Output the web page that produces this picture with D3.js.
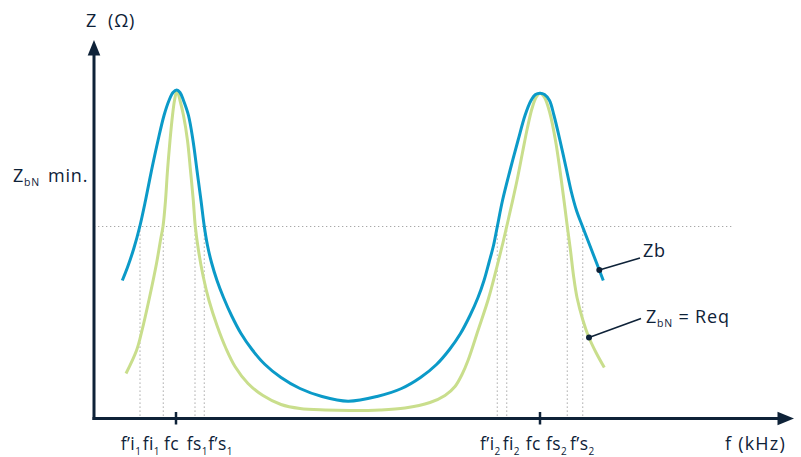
<!DOCTYPE html>
<html>
<head>
<meta charset="utf-8">
<script src="https://cdn.jsdelivr.net/npm/d3@7"></script>
<style>
  html, body { margin: 0; padding: 0; background: #ffffff; }
  svg { display: block; font-family: "Open Sans", "Noto Sans", sans-serif; }
</style>
</head>
<body>
<svg id="chart" width="801" height="457"></svg>
<script>
// ---- data (frequency f, impedance Z in arbitrary chart units) ----
const zbF = [28.3, 33.8, 39.8, 45.8, 51.5, 57.5, 64, 70, 75, 79, 82.7, 86, 89.5, 94.5, 99, 103, 107, 110.3, 113.5, 117.5, 123, 129.5, 137.5, 147, 158, 171, 187, 206, 228, 254, 283, 307.5, 326.5, 342.5, 355.5, 366.5, 376, 384, 390, 395, 399.5, 403.3, 408.5, 416, 424, 431, 437, 441.5, 446, 450.5, 455.5, 460, 466, 472, 477.5, 482.5, 488.5, 497, 509.3];
const zbZ = [138, 152, 170, 192, 218, 248, 278, 303, 318, 326, 328.5, 326, 318, 303, 278, 248, 218, 192, 173, 156, 138, 121, 103, 85, 69, 54, 41, 30, 22, 17.3, 22, 30, 41, 54, 69, 85, 103, 121, 138, 156, 173, 192, 218, 248, 278, 303, 318, 324, 325.3, 324, 318, 303, 278, 251, 226, 208, 192, 170, 138];

const reqF = [32, 42.5, 48, 55.5, 62.5, 66.8, 69, 71.5, 73.5, 76, 78.5, 80.5, 83, 86, 89.5, 93.5, 96.5, 99.3, 101.3, 104.5, 109, 115, 123, 132, 141, 154, 169, 187, 206, 231, 256, 286, 311, 336, 351, 361, 368, 374, 384, 394.5, 403, 409, 412.7, 417.5, 423, 428.5, 433.5, 438, 442, 446, 450.5, 456, 461.5, 466, 470, 473.3, 476.5, 479.5, 483, 489, 494.5, 502, 510.3];
const reqZ = [45, 68, 88, 121, 155, 180, 192, 218, 248, 278, 303, 318, 328, 318, 303, 278, 248, 218, 192, 168, 143, 118, 93, 70, 52, 35, 23, 14, 10, 8.5, 8, 8.5, 10.5, 16, 23, 32, 44, 58, 88, 120, 152, 176, 192, 213, 238, 266, 291, 310, 321, 325.3, 321, 305, 278, 248, 218, 192, 168, 143, 121, 98, 82, 66, 51];

const zMinLevel = 192;                    // Z_bN min. level
const zMinLineEnd = 638;                  // end of the dotted level line (f units)
const crossF = [46, 69.3, 101, 110.3, 403.3, 412.7, 473.3, 488.7];  // dotted verticals
const centerF = [82, 446];                // fc ticks

// tick labels: main text, subscript, left edge frequency
const tickMain = ["f\u2019i", "fi", "fc", "fs", "f\u2019s", "f\u2019i", "fi", "fc", "fs", "f\u2019s"];
const tickSub  = ["1", "1", "", "1", "1", "2", "2", "", "2", "2"];
const tickF    = [26.7, 48.7, 70, 92.7, 114.3, 386, 408.7, 431.7, 452, 476];

// series labels: [main, subscript, rest], annotation point on curve
const annoMain = ["Zb", "Z"];
const annoSub  = ["", "bN"];
const annoRest = ["", " = Req"];
const annoPtF  = [505.3, 495];
const annoPtZ  = [148.5, 81];

// ---- drawing ----
const navy = "#0e2238", blue = "#0b9ac8", green = "#c9de8c", grey = "#a8a8a8";
const svg = d3.select("#chart");
const x = d3.scaleLinear().domain([0, 700]).range([94, 794]);
const y = d3.scaleLinear().domain([0, 380]).range([418.5, 38.5]);
const fs = 18, ls = 0.8;

// dotted reference lines
svg.append("line")
  .attr("x1", x(0)).attr("x2", x(zMinLineEnd))
  .attr("y1", y(zMinLevel)).attr("y2", y(zMinLevel))
  .attr("stroke", grey).attr("stroke-width", 1.2).attr("stroke-dasharray", "1.3,2.7");
svg.selectAll("line.cross").data(crossF).enter().append("line")
  .attr("class", "cross")
  .attr("x1", d => x(d)).attr("x2", d => x(d))
  .attr("y1", y(zMinLevel)).attr("y2", y(0))
  .attr("stroke", grey).attr("stroke-width", 1.2).attr("stroke-dasharray", "1.3,2.7");

// curves
const line = d3.line().x(d => x(d[0])).y(d => y(d[1])).curve(d3.curveCatmullRom.alpha(0.5));
svg.append("path").datum(reqF.map((f, i) => [f, reqZ[i]]))
  .attr("d", line).attr("fill", "none").attr("stroke", green).attr("stroke-width", 3)
  .attr("stroke-linejoin", "round");
svg.append("path").datum(zbF.map((f, i) => [f, zbZ[i]]))
  .attr("d", line).attr("fill", "none").attr("stroke", blue).attr("stroke-width", 3)
  .attr("stroke-linejoin", "round");

// axes
svg.append("line").attr("x1", x(0)).attr("x2", x(0)).attr("y1", y(0) + 1.5).attr("y2", 52)
  .attr("stroke", navy).attr("stroke-width", 3);
svg.append("line").attr("x1", x(0) - 1.5).attr("x2", 780).attr("y1", y(0)).attr("y2", y(0))
  .attr("stroke", navy).attr("stroke-width", 3);
svg.append("path").attr("d", `M${x(0)},40 L${x(0) + 6.3},55.5 L${x(0) - 6.3},55.5 Z`).attr("fill", navy);
svg.append("path").attr("d", `M794,${y(0)} L777.5,${y(0) - 6.7} L777.5,${y(0) + 6.7} Z`).attr("fill", navy);

// fc ticks
svg.selectAll("line.tick").data(centerF).enter().append("line")
  .attr("class", "tick")
  .attr("x1", d => x(d)).attr("x2", d => x(d))
  .attr("y1", y(0) - 6.5).attr("y2", y(0) + 6)
  .attr("stroke", navy).attr("stroke-width", 2.5);

// tick labels
const tl = svg.selectAll("text.tl").data(tickMain).enter().append("text")
  .attr("class", "tl")
  .attr("x", (d, i) => x(tickF[i])).attr("y", 450)
  .attr("text-anchor", "start").attr("fill", navy).attr("font-size", 17.5)
  .attr("letter-spacing", 0.4);
tl.append("tspan").text(d => d);
tl.append("tspan").attr("dy", 5).attr("font-size", 10).text((d, i) => tickSub[i]);

svg.append("text").attr("x", 725).attr("y", 450).attr("fill", navy).attr("font-size", fs)
  .attr("letter-spacing", 1.2).text("f (kHz)");

// y axis title
svg.append("text").attr("x", 86).attr("y", 27).attr("fill", navy).attr("font-size", fs)
  .attr("letter-spacing", ls).attr("xml:space", "preserve").text("Z  (\u03A9)");

// Z_bN min. label
const zl = svg.append("text").attr("x", 13).attr("y", 182).attr("fill", navy).attr("font-size", fs)
  .attr("letter-spacing", ls);
zl.append("tspan").text("Z");
zl.append("tspan").attr("dy", 4).attr("font-size", 10.5).text("bN");
zl.append("tspan").attr("dy", -4).attr("dx", 8).text("min.");

// series annotations
const annoTextX = [643, 646];
const annoTextY = [257, 323];
const annoLineEnd = [[640, 258], [641, 318.5]];
annoMain.forEach((m, i) => {
  svg.append("line")
    .attr("x1", x(annoPtF[i])).attr("y1", y(annoPtZ[i]))
    .attr("x2", annoLineEnd[i][0]).attr("y2", annoLineEnd[i][1])
    .attr("stroke", navy).attr("stroke-width", 1.6);
  svg.append("circle").attr("cx", x(annoPtF[i])).attr("cy", y(annoPtZ[i])).attr("r", 3).attr("fill", navy);
  const t = svg.append("text").attr("x", annoTextX[i]).attr("y", annoTextY[i])
    .attr("fill", navy).attr("font-size", fs).attr("letter-spacing", ls);
  t.append("tspan").text(m);
  if (annoSub[i]) {
    t.append("tspan").attr("dy", 4).attr("font-size", 10.5).text(annoSub[i]);
    t.append("tspan").attr("dy", -4).attr("xml:space", "preserve").text(annoRest[i]);
  }
});
</script>
</body>
</html>
